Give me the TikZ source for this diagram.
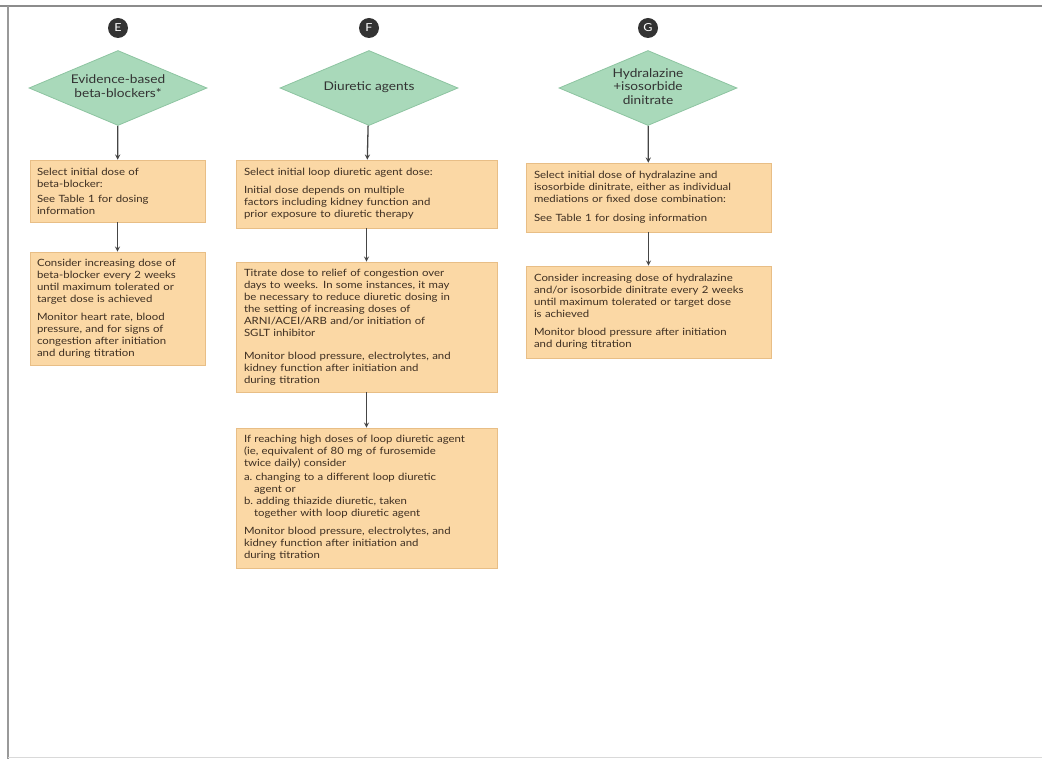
\documentclass[tikz,border=0pt]{standalone}
\usepackage{fontspec}
\setmainfont{Lato}[FakeStretch=1.14]
\usepackage{tikz}
\usetikzlibrary{shapes.geometric,arrows.meta,positioning}

\definecolor{mint}{HTML}{A9D9BA}
\definecolor{mintdark}{HTML}{8DC4A1}
\definecolor{peach}{HTML}{FBD8A5}
\definecolor{peachdark}{HTML}{E8BE86}
\definecolor{inkbrown}{HTML}{3E2F22}
\definecolor{arrowgrey}{HTML}{454545}

\newcommand{\choicetext}[1]{\makebox[0pt]{\begin{tabular}{@{}c@{}}#1\end{tabular}}}

\begin{document}
\begin{tikzpicture}[x=1pt,y=-1pt,>=stealth,
    letter/.style={circle,fill=black!80,text=white,inner sep=0pt,minimum size=20pt,
        font=\fontsize{11}{11}\selectfont},
    choice/.style={diamond,aspect=2.4,fill=mint,draw=mintdark,line width=0.8pt,inner sep=0pt,
        minimum width=178pt,minimum height=75pt,text=black!80,
        font=\fontsize{12}{13.5}\selectfont},
    stepbox/.style={rectangle,fill=peach,draw=peachdark,line width=0.6pt,inner sep=0pt,
        align=left,text=inkbrown,font=\fontsize{10}{12}\selectfont},
    link/.style={->,draw=arrowgrey,line width=1.3pt}]

    \useasboundingbox (0,0) rectangle (1042,759);
    % frame of the scanned page
    \draw[black!45,line width=2.5pt] (0,6) -- (1042,6);
    \draw[black!40,line width=1.5pt] (8,6) -- (8,759);
    \draw[black!15,line width=0.8pt] (8,757) -- (1042,757);

    \node[letter] (cE) at (118,28) {E};
    \node[letter] (cF) at (369,28) {F};
    \node[letter] (cG) at (648,28) {G};

    \node[choice] (dE) at (118,88) {\choicetext{Evidence-based\\beta-blockers*}};
    \node[choice] (dF) at (369,88) {\choicetext{Diuretic agents}};
    \node[choice] (dG) at (648,88) {\choicetext{Hydralazine\\+isosorbide\\dinitrate}};

    \node[stepbox,minimum width=175pt,minimum height=62pt,text width=161pt] (bE1) at (117.5,191)
        {Select initial dose of\\beta-blocker:\\[3pt]See Table 1 for dosing\\information};
    \node[stepbox,minimum width=175pt,minimum height=113pt,text width=161pt] (bE2) at (117.5,308.5)
        {Consider increasing dose of\\beta-blocker every 2 weeks\\until maximum tolerated or\\target dose is achieved\\[6pt]
         Monitor heart rate, blood\\pressure, and for signs of\\congestion after initiation\\and during titration};

    \node[stepbox,minimum width=261pt,minimum height=68pt,text width=245pt] (bF1) at (366.5,194)
        {Select initial loop diuretic agent dose:\\[6pt]Initial dose depends on multiple\\factors including kidney function and\\prior exposure to diuretic therapy};
    \node[stepbox,minimum width=261pt,minimum height=130pt,text width=245pt] (bF2) at (366.5,327)
        {Titrate dose to relief of congestion over\\days to weeks. In some instances, it may\\be necessary to reduce diuretic dosing in\\the setting of increasing doses of\\ARNI/ACEI/ARB and/or initiation of\\SGLT inhibitor\\[11pt]
         Monitor blood pressure, electrolytes, and\\kidney function after initiation and\\during titration};
    \node[stepbox,minimum width=261pt,minimum height=140pt,text width=245pt] (bF3) at (366.5,498)
        {If reaching high doses of loop diuretic agent\\(ie, equivalent of 80 mg of furosemide\\twice daily) consider\\[2pt]
         a.\ changing to a different loop diuretic\\\hspace*{10pt}agent or\\
         b.\ adding thiazide diuretic, taken\\\hspace*{10pt}together with loop diuretic agent\\[6pt]
         Monitor blood pressure, electrolytes, and\\kidney function after initiation and\\during titration};

    \node[stepbox,minimum width=245pt,minimum height=69pt,text width=229pt] (bG1) at (648.5,197.5)
        {Select initial dose of hydralazine and\\isosorbide dinitrate, either as individual\\mediations or fixed dose combination:\\[7pt]See Table 1 for dosing information};
    \node[stepbox,minimum width=245pt,minimum height=92pt,text width=229pt] (bG2) at (648.5,312)
        {Consider increasing dose of hydralazine\\and/or isosorbide dinitrate every 2 weeks\\until maximum tolerated or target dose\\is achieved\\[6pt]
         Monitor blood pressure after initiation\\and during titration};

    \draw[link] (dE) -- (bE1);
    \draw[link] (bE1) -- (bE2);

    \draw[link] (dF) -- (bF1);
    \draw[link] (bF1) -- (bF2);
    \draw[link] (bF2) -- (bF3);

    \draw[link] (dG) -- (bG1);
    \draw[link] (bG1) -- (bG2);
\end{tikzpicture}
\end{document}
